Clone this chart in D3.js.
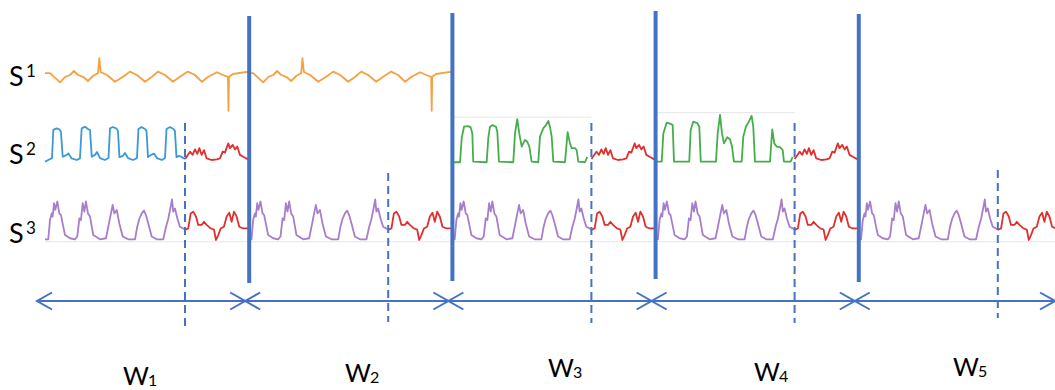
<!DOCTYPE html>
<html>
<head>
<meta charset="utf-8">
<script src="https://cdn.jsdelivr.net/npm/d3@7"></script>
<style>
  body { margin: 0; background: #fff; }
  svg { display: block; font-family: Lato, "Open Sans", sans-serif; }
</style>
</head>
<body>
<svg id="chart" width="1055" height="390"></svg>
<script>
// ---- data ----
const WIN = 200;                 // samples per window
const windowNames = ['1', '2', '3', '4', '5'];
const seriesNames = ['1', '2', '3'];
const splitT = 137.8;            // sample where the test part of each window starts

// which series are shown in each window
const s1Shown = [true, true, false, false, false];
const s2Shown = ['blue', null, 'greenA', 'greenB', null];

// S1: one window of the orange signal, [sample, value]
const s1Beat = [[0,1.4],[4.9,1.4],[14.8,-3.2],[19.7,-0.5],[24.6,0.5],[28.5,2.5],[32.5,0.5],[37.4,-0.4],
  [42.3,-2.5],[47.2,0],[52.2,1.5],[53.4,8.9],[54.8,2],[61,0.5],[68.9,-2.9],[76.8,-0.4],[83.6,2.2],
  [90.5,0.5],[98.4,-2.9],[105.3,-0.4],[111.2,2.2],[118.1,0.5],[126,-2.9],[132.8,-0.4],[140.7,2.2],
  [147.6,0.5],[154.5,-2.9],[160.4,-0.5],[169.2,1.9],[175.2,0.5],[180.1,-0.4],[180.6,-17.4],[181.1,-0.4],
  [185,1],[196.8,1.9],[199.8,2]];

// S2: normal parts
const s2Blue = [[0,-0.5],[3.2,0],[6.9,0.6],[8.2,9.4],[11.5,9.9],[14.1,9.6],[15.7,8.8],[17.4,1],[21.4,1.6],
  [22.9,2.1],[26.3,0.5],[31.2,0],[34.4,0.5],[36.1,9.9],[39.4,10.4],[42.6,9.6],[44.3,9.4],[46,1],[49.2,1.6],
  [51.2,2.5],[54.1,0.6],[59,0],[62.5,0.6],[64,9.9],[66.9,10.3],[70.4,9.8],[71.8,9.1],[73.3,0.9],[76.8,1.3],
  [78.7,2.2],[81.7,0.6],[86.6,0],[90.5,0.6],[92,9.7],[95,10.3],[98.4,9.7],[99.9,9.1],[101.4,0.9],[104.3,1.6],
  [107.3,2],[110.2,0.6],[115.1,0],[118.1,0.6],[119.6,9.7],[123,10.3],[126.4,9.7],[127.9,9.1],[129.4,0.9],
  [131.9,1.3],[134.8,0.9],[137.8,0.3]];
const s2GreenA = [[1.9,-0.7],[8.5,-0.7],[10.1,6.8],[12.4,10.4],[16.6,10.6],[19,10.2],[20.6,8.3],[21.5,-0.5],
  [34.7,-0.7],[36.3,6.8],[38,10.4],[40.6,10.9],[43.9,10.4],[45.2,8.8],[46.8,-0.5],[60.9,-0.7],[62.6,8.3],
  [64.8,12.8],[66.8,8.3],[69.2,4.2],[72.4,6.3],[74.7,5.7],[76.7,4.2],[79,-0.5],[85.5,-0.7],[87.2,7.3],
  [90.4,9.9],[93.1,10.9],[95.4,12.2],[97,10.4],[98.7,7.3],[100.3,-0.5],[111.8,-0.7],[114.4,8.7],[116.7,5.2],
  [118.4,3.7],[121.6,3.7],[123.3,3.1],[124.9,-0.5],[131.5,-0.7],[133.7,1]];
const s2GreenB = [[2.1,-0.5],[7,-0.5],[8.6,8.3],[11.9,11.7],[15.8,11.3],[17.8,10.9],[19.1,-0.5],[34.1,-0.5],
  [35.5,9.4],[38.1,12],[42,11.5],[44,10.4],[45.4,-0.5],[60.4,-0.5],[62.1,8.3],[64.4,14.1],[66.3,8.3],
  [68.3,5.2],[71.5,7.1],[74.2,6.5],[76.2,4.2],[78.1,-0.5],[85.7,-0.5],[87.3,7.3],[89.9,10.4],[93.2,12.3],
  [95.5,13.8],[97.1,10.4],[98.8,-0.5],[113.6,-0.5],[115.8,9.6],[117.8,5.2],[120.1,4.2],[123.4,4],
  [126.1,3.1],[127.3,-0.5],[133.9,-0.5],[135.9,1]];
// S2: anomalous part
const s2Anomaly = [[137.8,0.3],[139.4,1],[142.7,2.6],[145.3,1.6],[147.6,3.3],[149.9,1.9],[151.9,3.7],
  [154.2,1.6],[156.5,3.1],[159.1,0.5],[164,0],[169,0.2],[172.2,0.5],[174.9,2.6],[177.1,2.3],[180.4,5.2],
  [182,3.7],[184.7,4.7],[187,3.3],[189.2,4.2],[191.9,1.6],[195.1,1],[199.8,0.2]];

// S3: normal and anomalous parts
const s3Normal = [[0,0.2],[3.2,0.2],[4.9,5.7],[6.6,7.6],[7.5,6.7],[8.9,10.5],[10.1,8.6],[12.1,11],[14.1,7.6],
  [15.7,7.1],[19.7,1.4],[24.6,0.5],[29.5,0.2],[31.8,1],[33.8,6.2],[35.4,5.7],[37.1,10.5],[38.7,8.1],[40.3,11],
  [42.3,7.6],[44.3,6.7],[47.5,1.4],[54.1,0.2],[60,0.5],[62.3,3.8],[64.9,7.6],[66.6,10],[68.2,7.6],[70.6,8.6],
  [73.1,4.8],[76.5,1],[82,0.2],[88.6,0.2],[90.8,3.8],[92.8,6],[95.2,7.6],[97.4,8.4],[99.4,7.1],[101.6,4.8],
  [105,1],[109.9,0.2],[116.4,0.2],[119.1,3.8],[121.3,6],[123.7,9.5],[125,11.6],[126.2,8.1],[127.9,9],
  [130.2,6.2],[132.8,3.8],[135.5,3.4],[137.8,2.9]];
const s3Anomaly = [[137.8,2.9],[141,3.3],[143.4,7.6],[145.9,8.1],[148.6,6.7],[150.8,4.3],[154.2,4.3],
  [156.5,5.2],[159.1,4.3],[163,3.3],[166.3,3],[168.3,0],[170.5,1.4],[172.9,3.3],[176.1,3.8],[178.8,6.7],
  [181.4,7.8],[183.7,5.2],[186,8.1],[188.6,6.7],[191.2,3.8],[195.1,3.3],[199.8,3.3]];

// ---- layout ----
const colors = {
  orange: '#F6A042', blue: '#3B9AD6', greenA: '#45AE4A', greenB: '#45AE4A',
  red: '#E0302E', purple: '#A67ECC', frame: '#4472C4', faint: '#E6E6E6'
};
const boundaryTop = [16, 13, 11, 14];
const boundaryBottom = [283, 281, 279, 282];
const dashTop = [123, 173, 123, 123, 170];
const dashBottom = [327, 322, 323, 323, 318];
const wLabelX = [123, 345, 548, 754, 953];
const wLabelY = [385, 382, 377, 381, 376];
const sLabelY = [86, 164, 243];
const arrowY = 301;

const svg = d3.select('#chart');

const x = d3.scaleLinear().domain([0, WIN * windowNames.length]).range([45, 1061]);
const yRow = [
  d3.scaleLinear().domain([-20, 15]).range([116, 46]),
  d3.scaleLinear().domain([0, 10]).range([160, 128]),
  d3.scaleLinear().domain([0, 10]).range([240, 205])
];

const lineFor = (w, y) => d3.line()
  .x(d => x(w * WIN + d[0]))
  .y(d => y(d[1]));

// faint frame lines from the pasted plots
svg.append('line')
  .attr('x1', x(0)).attr('x2', 1055)
  .attr('y1', yRow[2](-0.5)).attr('y2', yRow[2](-0.5))
  .attr('stroke', colors.faint).attr('stroke-width', 1);
[[2, s2GreenA, 13.4], [3, s2GreenB, 14.8]].forEach(([w, data, top]) => {
  svg.append('line')
    .attr('x1', x(w * WIN + data[0][0])).attr('x2', x(w * WIN + splitT))
    .attr('y1', yRow[1](top)).attr('y2', yRow[1](top))
    .attr('stroke', colors.faint).attr('stroke-width', 1);
});

// signal segments
const segments = [];
windowNames.forEach((name, w) => {
  if (s1Shown[w]) segments.push({ w, row: 0, data: s1Beat, color: colors.orange });
  if (s2Shown[w]) {
    const normal = s2Shown[w] === 'blue' ? s2Blue : (s2Shown[w] === 'greenA' ? s2GreenA : s2GreenB);
    segments.push({ w, row: 1, data: normal, color: colors[s2Shown[w]] });
    segments.push({ w, row: 1, data: s2Anomaly, color: colors.red });
  }
  segments.push({ w, row: 2, data: s3Normal, color: colors.purple });
  segments.push({ w, row: 2, data: s3Anomaly, color: colors.red });
});

svg.append('g').selectAll('path')
  .data(segments)
  .enter()
  .append('path')
  .attr('d', s => lineFor(s.w, yRow[s.row])(s.data))
  .attr('fill', 'none')
  .attr('stroke', s => s.color)
  .attr('stroke-width', 1.8)
  .attr('stroke-linejoin', 'round');

// dashed split lines
svg.append('g').selectAll('line')
  .data(windowNames)
  .enter()
  .append('line')
  .attr('x1', (d, i) => x(i * WIN + splitT))
  .attr('x2', (d, i) => x(i * WIN + splitT))
  .attr('y1', (d, i) => dashTop[i])
  .attr('y2', (d, i) => dashBottom[i])
  .attr('stroke', colors.frame)
  .attr('stroke-width', 2)
  .attr('stroke-dasharray', '8,5');

// thick window boundaries
svg.append('g').selectAll('line')
  .data(windowNames.slice(1))
  .enter()
  .append('line')
  .attr('x1', (d, i) => x((i + 1) * WIN) + 1)
  .attr('x2', (d, i) => x((i + 1) * WIN) + 1)
  .attr('y1', (d, i) => boundaryTop[i])
  .attr('y2', (d, i) => boundaryBottom[i])
  .attr('stroke', colors.frame)
  .attr('stroke-width', 4);

// window arrows
const tips = [37].concat(windowNames.slice(1).map((d, i) => x((i + 1) * WIN) - 3), [1055]);
const arrows = svg.append('g').attr('stroke', colors.frame).attr('stroke-width', 2).attr('fill', 'none');
arrows.append('line')
  .attr('x1', tips[0]).attr('x2', tips[tips.length - 1])
  .attr('y1', arrowY).attr('y2', arrowY);
windowNames.forEach((d, i) => {
  const l = tips[i], r = tips[i + 1];
  arrows.append('path').attr('d', `M${l + 15},${arrowY - 8.5}L${l},${arrowY}L${l + 15},${arrowY + 8.5}`);
  arrows.append('path').attr('d', `M${r - 15},${arrowY - 8.5}L${r},${arrowY}L${r - 15},${arrowY + 8.5}`);
});

// series labels
seriesNames.forEach((n, i) => {
  svg.append('text')
    .attr('x', 9).attr('y', sLabelY[i])
    .style('font-size', '27px').attr('fill', '#000')
    .text('S');
  svg.append('text')
    .attr('x', 26).attr('y', sLabelY[i] - 9)
    .style('font-size', '17px').attr('fill', '#000')
    .text(n);
});

// window labels
windowNames.forEach((n, i) => {
  svg.append('text')
    .attr('x', wLabelX[i]).attr('y', wLabelY[i])
    .style('font-size', '25px').attr('fill', '#000')
    .text('W');
  svg.append('text')
    .attr('x', wLabelX[i] + 25).attr('y', wLabelY[i] + 1)
    .style('font-size', '16px').attr('fill', '#000')
    .text(n);
});
</script>
</body>
</html>
